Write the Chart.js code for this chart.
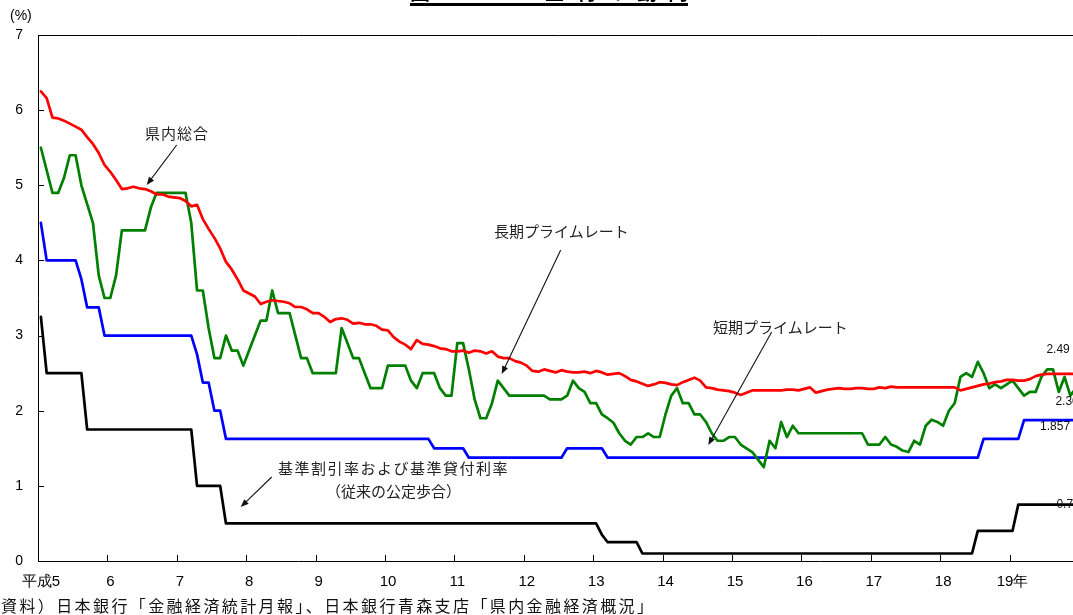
<!DOCTYPE html>
<html><head><meta charset="utf-8">
<script src="https://cdn.jsdelivr.net/npm/chart.js@4.4.1/dist/chart.umd.min.js"></script>
<style>
html,body{margin:0;padding:0;background:#fff;overflow:hidden;width:1073px;height:615px}
#wrap{position:relative;width:1073px;height:615px;overflow:hidden;background:#fff}
#box{position:absolute;left:0;top:0;width:1090px;height:615px}
.t{position:absolute;font-family:"Noto Sans CJK JP";font-size:15px;line-height:16px;color:#222;white-space:nowrap}
#title{position:absolute;left:410px;top:-19px;width:278px;font-family:"Noto Sans CJK JP";font-weight:bold;font-size:20px;line-height:22px;border-bottom:3px solid #000;text-align:justify;text-align-last:justify;white-space:nowrap}
#pct{position:absolute;left:10px;top:7px;font-family:"Liberation Sans";font-size:14px;line-height:16px;color:#000}
#src{position:absolute;left:1px;top:596px;font-family:"Noto Sans CJK JP";font-size:16px;line-height:18px;letter-spacing:2.4px;color:#111;white-space:nowrap}
</style></head><body>
<div id="wrap">
<div id="box"><canvas id="c" width="1090" height="615"></canvas></div>
<div id="title">図2-3-10　金利の動向</div>
<div id="pct">(%)</div>
<div class="t" style="left:145px;top:125px;letter-spacing:1px">県内総合</div>
<div class="t" style="left:494px;top:223px">長期プライムレート</div>
<div class="t" style="left:713px;top:319px">短期プライムレート</div>
<div class="t" style="left:278px;top:460px;letter-spacing:1.5px">基準割引率および基準貸付利率</div>
<div class="t" style="left:326px;top:483px">（従来の公定歩合）</div>
<div id="src">資料）日本銀行「金融経済統計月報」、日本銀行青森支店「県内金融経済概況」</div>
</div>
<script>
// x axis: months counted from 平成5年1月 (index 0 .. 179)
const xTickMonths = [0,12,24,36,48,60,72,84,96,108,120,132,144,156,168];
const xTickLabels = ['平成5','6','7','8','9','10','11','12','13','14','15','16','17','18','19年'];
const yTickValues = [0,1,2,3,4,5,6,7];

// 県内総合 (red)
const kennaiSogo = [
6.25,6.16,5.90,5.89,5.86,5.82,5.78,5.74,5.64,5.55,
5.43,5.27,5.18,5.07,4.95,4.96,4.98,4.96,4.95,4.92,
4.88,4.88,4.85,4.84,4.83,4.79,4.72,4.74,4.55,4.42,
4.30,4.16,3.98,3.88,3.75,3.60,3.56,3.52,3.42,3.45,
3.47,3.46,3.45,3.43,3.38,3.38,3.35,3.30,3.30,3.25,
3.18,3.22,3.23,3.21,3.16,3.17,3.15,3.15,3.13,3.08,
3.07,2.98,2.92,2.88,2.82,2.94,2.89,2.88,2.86,2.83,
2.82,2.79,2.79,2.80,2.77,2.80,2.79,2.76,2.79,2.72,
2.70,2.70,2.66,2.64,2.60,2.53,2.52,2.55,2.53,2.51,
2.54,2.52,2.51,2.51,2.52,2.50,2.53,2.51,2.48,2.49,
2.50,2.46,2.41,2.39,2.36,2.33,2.35,2.38,2.37,2.35,
2.34,2.38,2.41,2.44,2.40,2.31,2.30,2.28,2.27,2.26,
2.24,2.21,2.24,2.27,2.27,2.27,2.27,2.27,2.27,2.28,
2.28,2.27,2.29,2.31,2.24,2.26,2.28,2.29,2.30,2.29,
2.29,2.30,2.30,2.29,2.29,2.31,2.30,2.32,2.31,2.31,
2.31,2.31,2.31,2.31,2.31,2.31,2.31,2.31,2.31,2.27,
2.29,2.31,2.33,2.35,2.36,2.38,2.39,2.41,2.41,2.40,
2.40,2.42,2.46,2.48,2.49,2.49,2.49,2.49,2.49,2.49];

// 長期プライムレート (green)
const chokiPrime = [
5.5,5.2,4.9,4.9,5.1,5.4,5.4,5.0,4.75,4.5,
3.8,3.5,3.5,3.8,4.4,4.4,4.4,4.4,4.4,4.7,
4.9,4.9,4.9,4.9,4.9,4.9,4.5,3.6,3.6,3.1,
2.7,2.7,3.0,2.8,2.8,2.6,2.8,3.0,3.2,3.2,
3.6,3.3,3.3,3.3,3.0,2.7,2.7,2.5,2.5,2.5,
2.5,2.5,3.1,2.9,2.7,2.7,2.5,2.3,2.3,2.3,
2.6,2.6,2.6,2.6,2.4,2.3,2.5,2.5,2.5,2.3,
2.2,2.2,2.9,2.9,2.55,2.15,1.9,1.9,2.1,2.4,
2.3,2.2,2.2,2.2,2.2,2.2,2.2,2.2,2.15,2.15,
2.15,2.2,2.4,2.3,2.25,2.1,2.1,1.95,1.9,1.84,
1.7,1.6,1.55,1.65,1.65,1.7,1.65,1.65,1.95,2.2,
2.3,2.1,2.1,1.95,1.95,1.85,1.7,1.6,1.6,1.65,
1.65,1.55,1.5,1.45,1.35,1.25,1.6,1.5,1.85,1.65,
1.8,1.7,1.7,1.7,1.7,1.7,1.7,1.7,1.7,1.7,
1.7,1.7,1.7,1.55,1.55,1.55,1.65,1.55,1.52,1.47,
1.45,1.6,1.55,1.8,1.88,1.85,1.8,2.0,2.1,2.45,
2.5,2.45,2.65,2.5,2.3,2.35,2.3,2.35,2.4,2.3,
2.2,2.25,2.25,2.45,2.55,2.55,2.25,2.45,2.2,2.3];

// 短期プライムレート (blue)
const tankiPrime = [
4.5,4.0,4.0,4.0,4.0,4.0,4.0,3.75,3.375,3.375,
3.375,3.0,3.0,3.0,3.0,3.0,3.0,3.0,3.0,3.0,
3.0,3.0,3.0,3.0,3.0,3.0,3.0,2.75,2.375,2.375,
2.0,2.0,1.625,1.625,1.625,1.625,1.625,1.625,1.625,1.625,
1.625,1.625,1.625,1.625,1.625,1.625,1.625,1.625,1.625,1.625,
1.625,1.625,1.625,1.625,1.625,1.625,1.625,1.625,1.625,1.625,
1.625,1.625,1.625,1.625,1.625,1.625,1.625,1.625,1.5,1.5,
1.5,1.5,1.5,1.5,1.375,1.375,1.375,1.375,1.375,1.375,
1.375,1.375,1.375,1.375,1.375,1.375,1.375,1.375,1.375,1.375,
1.375,1.5,1.5,1.5,1.5,1.5,1.5,1.5,1.375,1.375,
1.375,1.375,1.375,1.375,1.375,1.375,1.375,1.375,1.375,1.375,
1.375,1.375,1.375,1.375,1.375,1.375,1.375,1.375,1.375,1.375,
1.375,1.375,1.375,1.375,1.375,1.375,1.375,1.375,1.375,1.375,
1.375,1.375,1.375,1.375,1.375,1.375,1.375,1.375,1.375,1.375,
1.375,1.375,1.375,1.375,1.375,1.375,1.375,1.375,1.375,1.375,
1.375,1.375,1.375,1.375,1.375,1.375,1.375,1.375,1.375,1.375,
1.375,1.375,1.375,1.625,1.625,1.625,1.625,1.625,1.625,1.625,
1.875,1.875,1.875,1.875,1.875,1.875,1.875,1.875,1.875,1.875];

// 基準割引率および基準貸付利率 (black)
const kijunWaribiki = [
3.25,2.5,2.5,2.5,2.5,2.5,2.5,2.5,1.75,1.75,
1.75,1.75,1.75,1.75,1.75,1.75,1.75,1.75,1.75,1.75,
1.75,1.75,1.75,1.75,1.75,1.75,1.75,1.0,1.0,1.0,
1.0,1.0,0.5,0.5,0.5,0.5,0.5,0.5,0.5,0.5,
0.5,0.5,0.5,0.5,0.5,0.5,0.5,0.5,0.5,0.5,
0.5,0.5,0.5,0.5,0.5,0.5,0.5,0.5,0.5,0.5,
0.5,0.5,0.5,0.5,0.5,0.5,0.5,0.5,0.5,0.5,
0.5,0.5,0.5,0.5,0.5,0.5,0.5,0.5,0.5,0.5,
0.5,0.5,0.5,0.5,0.5,0.5,0.5,0.5,0.5,0.5,
0.5,0.5,0.5,0.5,0.5,0.5,0.5,0.35,0.25,0.25,
0.25,0.25,0.25,0.25,0.1,0.1,0.1,0.1,0.1,0.1,
0.1,0.1,0.1,0.1,0.1,0.1,0.1,0.1,0.1,0.1,
0.1,0.1,0.1,0.1,0.1,0.1,0.1,0.1,0.1,0.1,
0.1,0.1,0.1,0.1,0.1,0.1,0.1,0.1,0.1,0.1,
0.1,0.1,0.1,0.1,0.1,0.1,0.1,0.1,0.1,0.1,
0.1,0.1,0.1,0.1,0.1,0.1,0.1,0.1,0.1,0.1,
0.1,0.1,0.4,0.4,0.4,0.4,0.4,0.4,0.4,0.75,
0.75,0.75,0.75,0.75,0.75,0.75,0.75,0.75,0.75,0.75];

const endLabels = ['2.49','2.30','1.857','0.75'];

function pts(arr){ return arr.map((v,i)=>({x:i+0.5,y:v})); }

const annotationArrows = {
  id:'annot',
  afterDraw(chart){
    const ctx = chart.ctx, a = chart.chartArea;
    const xs = chart.scales.x, ys = chart.scales.y;
    ctx.save();
    // top frame
    ctx.strokeStyle='#000'; ctx.lineWidth=1;
    ctx.beginPath(); ctx.moveTo(a.left, a.top+0.5); ctx.lineTo(a.right, a.top+0.5); ctx.stroke();
    // inside tick marks
    ctx.beginPath();
    yTickValues.forEach(v=>{ const y=Math.round(ys.getPixelForValue(v))+0.5; ctx.moveTo(a.left,y); ctx.lineTo(a.left+6,y); });
    xTickMonths.forEach(v=>{ const x=Math.round(xs.getPixelForValue(v))+0.5; ctx.moveTo(x,a.bottom); ctx.lineTo(x,a.bottom-6); });
    ctx.stroke();
    // arrows
    const arrows=[[176.7,145,146.7,185],[560.7,250,501.7,374],[771.7,332,708.3,445],[271.7,477,240.7,507]];
    ctx.strokeStyle='#111'; ctx.fillStyle='#111'; ctx.lineWidth=1.1;
    arrows.forEach(([x1,y1,x2,y2])=>{
      const ang=Math.atan2(y2-y1,x2-x1), L=8, W=3.2;
      ctx.beginPath(); ctx.moveTo(x1,y1); ctx.lineTo(x2-Math.cos(ang)*L*0.8,y2-Math.sin(ang)*L*0.8); ctx.stroke();
      ctx.beginPath(); ctx.moveTo(x2,y2);
      ctx.lineTo(x2-Math.cos(ang)*L-Math.sin(ang)*W, y2-Math.sin(ang)*L+Math.cos(ang)*W);
      ctx.lineTo(x2-Math.cos(ang)*L+Math.sin(ang)*W, y2-Math.sin(ang)*L-Math.cos(ang)*W);
      ctx.closePath(); ctx.fill();
    });
    // end value labels
    ctx.font='12px "Liberation Sans"'; ctx.fillStyle='#111'; ctx.textAlign='center'; ctx.textBaseline='middle';
    const offs=[[-18,-24],[-9,14],[-21,7],[-8,0]];
    chart.data.datasets.forEach((ds,i)=>{
      const p=ds.data[ds.data.length-1];
      ctx.fillText(endLabels[i], xs.getPixelForValue(p.x)+offs[i][0], ys.getPixelForValue(p.y)+offs[i][1]);
    });
    ctx.restore();
  }
};

new Chart(document.getElementById('c'),{
  type:'line',
  data:{datasets:[
    {label:'県内総合',data:pts(kennaiSogo),borderColor:'#ff0000'},
    {label:'長期プライムレート',data:pts(chokiPrime),borderColor:'#008000'},
    {label:'短期プライムレート',data:pts(tankiPrime),borderColor:'#0000ff'},
    {label:'基準割引率および基準貸付利率',data:pts(kijunWaribiki),borderColor:'#000000'}
  ]},
  options:{
    responsive:false, animation:false, devicePixelRatio:1,
    layout:{padding:{top:35,right:11,left:0,bottom:0}},
    elements:{point:{radius:0},line:{borderWidth:2.7,tension:0,borderCapStyle:'round',borderJoinStyle:'round'}},
    plugins:{legend:{display:false},tooltip:{enabled:false}},
    scales:{
      x:{type:'linear',min:0,max:180,
        afterBuildTicks(s){ s.ticks = xTickMonths.map(v=>({value:v})); },
        afterFit(s){ s.height=54; },
        grid:{display:false,drawTicks:false},
        border:{display:true,color:'#000',width:1},
        ticks:{autoSkip:false,maxRotation:0,padding:12,labelOffset:3,color:'#000',
          font:{family:'Liberation Sans',size:15},
          callback(v){ const i=xTickMonths.indexOf(v); return i>=0?xTickLabels[i]:''; }}
      },
      y:{min:0,max:7,
        afterBuildTicks(s){ s.ticks = yTickValues.map(v=>({value:v})); },
        afterFit(s){ s.width=38; },
        grid:{display:false,drawTicks:false},
        border:{display:true,color:'#000',width:1},
        ticks:{padding:15,color:'#000',font:{family:'Liberation Sans',size:14}}
      }
    }
  },
  plugins:[annotationArrows]
});
</script>
</body></html>
